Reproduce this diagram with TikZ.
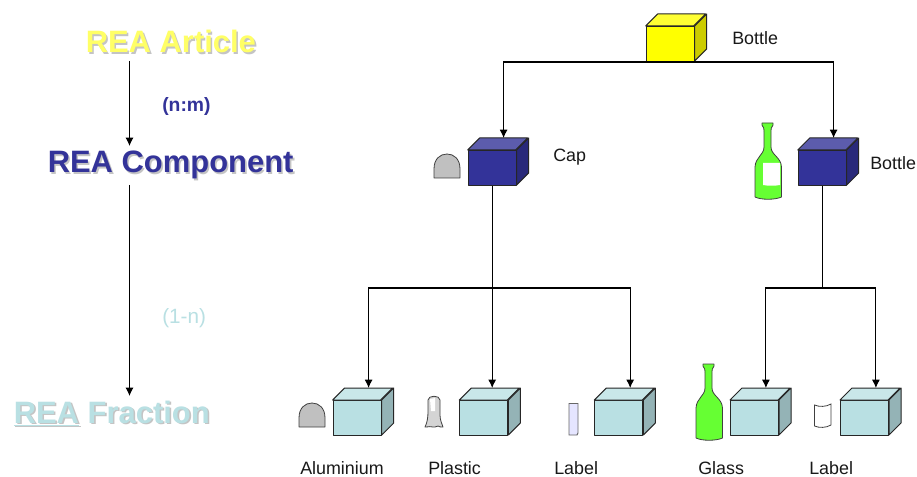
\documentclass[tikz,border=0pt]{standalone}
\usepackage{fontspec}
\setmainfont{Liberation Sans}
\usetikzlibrary{arrows.meta,calc}
\definecolor{yelF}{HTML}{FFFF00}\definecolor{yelT}{HTML}{FFFF33}\definecolor{yelS}{HTML}{CCCC00}
\definecolor{navF}{HTML}{333399}\definecolor{navT}{HTML}{5C5CAD}\definecolor{navS}{HTML}{29297A}
\definecolor{teaF}{HTML}{B9E0E3}\definecolor{teaT}{HTML}{C9E7E9}\definecolor{teaS}{HTML}{94B3B6}
\definecolor{txtY}{HTML}{FFFF66}\definecolor{shad}{HTML}{C4C4C4}
\definecolor{bottleG}{HTML}{66FF33}\definecolor{capG}{HTML}{C0C0C0}
\tikzset{
  x=0.75pt,y=-0.75pt,
  conn/.style={draw=black,line width=0.85pt},
  arrowed/.style={conn,-{Latex[length=6.2pt,width=6pt]}},
  cubeface/.style={draw=black!85,line width=0.75pt,line join=round},
  front/.style={cubeface,rectangle,minimum width=36pt,minimum height=26.25pt,inner sep=0pt,anchor=north west},
  small/.style={anchor=base west,inner sep=0pt,text=black!90,font=\fontsize{13.4}{15}\selectfont},
  head/.style={anchor=base west,inner sep=0pt,font=\fontsize{23.2}{26}\selectfont\bfseries},
  icon/.style={draw=black!75,line width=0.6pt,line join=round},
}
% name, x, y of the front face's top-left corner, colour prefix
\newcommand{\cubebox}[4]{%
  \node[front,fill=#4F] (#1) at (#2,#3) {};
  \path[cubeface,fill=#4T] (#1.north west) -- ++(12,-12) -- ++(48,0) -- ++(-12,12) -- cycle;
  \path[cubeface,fill=#4S] (#1.north east) -- ++(12,-12) -- ++(0,35) -- ++(-12,12) -- cycle;
  \coordinate (#1T) at ($(#1.north)+(11.4,-12)$);
}
% bottle: left x, top y, about 26 x 77
\newcommand{\greenbottle}[3]{%
  \begin{scope}[shift={(#1,#2)}]
    \path[icon,fill=bottleG] (7,0) -- (18,0) -- (18,2)
      .. controls (16,4) and (16,6) .. (16,10) -- (16,24)
      .. controls (16,32) and (26,34) .. (26.5,44) -- (26.5,74)
      .. controls (20,77) and (6,77) .. (0,74) -- (0,44)
      .. controls (0.5,34) and (9,32) .. (9,24) -- (9,10)
      .. controls (9,6) and (9,4) .. (7,2) -- cycle;
    #3
  \end{scope}%
}
\newcommand{\dome}[2]{%
  \path[icon,fill=capG] (#1,#2+24) -- (#1,#2+15) .. controls (#1,#2+5) and (#1+6,#2) .. (#1+13,#2)
    .. controls (#1+20,#2) and (#1+26,#2+5) .. (#1+26,#2+15) -- (#1+26,#2+24) -- cycle;
}
\newcommand{\headtext}[5]{%
  \node[head,text=shad] (#1s) at (#2+1.6,#3+1.6) {#4};
  \node[head,text=#5] (#1) at (#2,#3) {#4};
}
\begin{document}
\begin{tikzpicture}
\useasboundingbox[fill=white] (0,0) rectangle (917,477);

% left column
\headtext{article}{85.5}{53}{REA Article}{txtY}
\headtext{component}{47.5}{173}{REA Component}{navF}
\headtext{fraction}{13.5}{423}{\underline{REA} Fraction}{teaF}
\node[anchor=base west,inner sep=0pt,text=navF,font=\fontsize{14.5}{16}\selectfont\bfseries] (nm) at (162,112) {(n:m)};
\node[anchor=base west,inner sep=0pt,text=teaF,font=\fontsize{15.5}{17}\selectfont] (onen) at (162,323) {(1-n)};
\coordinate (a1) at (129.5,61);
\coordinate (a2) at (129.5,146);
\coordinate (a3) at (129.5,185);
\coordinate (a4) at (129.5,396);
\draw[arrowed] (a1) -- (a2);
\draw[arrowed] (a3) -- (a4);

% cubes
\cubebox{top}{645.7}{26}{yel}
\cubebox{cap}{467.7}{150}{nav}
\cubebox{bot}{797.7}{150}{nav}
\cubebox{alu}{332.7}{400}{tea}
\cubebox{pla}{459.3}{400}{tea}
\cubebox{lab}{594.3}{400}{tea}
\cubebox{gla}{730}{400}{tea}
\cubebox{lbb}{840}{400}{tea}

% connectors
\draw[arrowed] (top.south) -| (capT);
\draw[arrowed] (top.south) -| (botT);
\coordinate (capJ) at ($(cap.south)+(0,102)$);
\coordinate (botJ) at ($(bot.south)+(0,102)$);
\draw[conn] (cap.south) -- (capJ);
\draw[conn] (bot.south) -- (botJ);
\draw[arrowed] (capJ) -| (aluT);
\draw[arrowed] (capJ) -- (capJ |- plaT);
\draw[arrowed] (capJ) -| (labT);
\draw[arrowed] (botJ) -| (glaT);
\draw[arrowed] (botJ) -| (lbbT);

% icons
\dome{434}{154}
\dome{299}{403}
\greenbottle{755}{123}{\path[fill=white] (8,40) -- (25,40) -- (25,62) .. controls (20,63) and (13,63) .. (8,62) -- cycle;}
\greenbottle{696}{364}{}
% plastic preform
\path[icon,fill=black!17] (428,400) .. controls (428,395) and (440,395) .. (440,400)
  -- (440,415) .. controls (440,420) and (442,424) .. (443,427)
  .. controls (441,428) and (439,426) .. (438,426) .. controls (436,426) and (435,428) .. (433,427)
  .. controls (431,426) and (429,427) .. (425,427) .. controls (427,423) and (428,418) .. (428,412) -- cycle;
\path[fill=white] (430,399) -- (435,398) -- (435,411) -- (431,411) -- cycle;
% flat label
\path[draw=black!60,line width=0.7pt,fill=blue!10] (569,403.5) -- (578,403.5) -- (578,433) -- (577,435) -- (569,435) -- cycle;
% curved label
\path[draw=black!75,line width=0.6pt,fill=white] (814.5,405) .. controls (819,407) and (826,407) .. (831,404) -- (831,425)
  .. controls (826,428) and (819,428) .. (814.5,426) -- cycle;

% captions
\node[small] (tBottle) at (732,45) {Bottle};
\node[small] (tCap) at (553,162) {Cap};
\node[small] (tBottle2) at (870,170) {Bottle};
\node[small] (tAlu) at (300,474) {Aluminium};
\node[small] (tPla) at (428,474) {Plastic};
\node[small] (tLab) at (554,474) {Label};
\node[small] (tGla) at (698,474) {Glass};
\node[small] (tLbb) at (809,474) {Label};
\end{tikzpicture}
\end{document}
